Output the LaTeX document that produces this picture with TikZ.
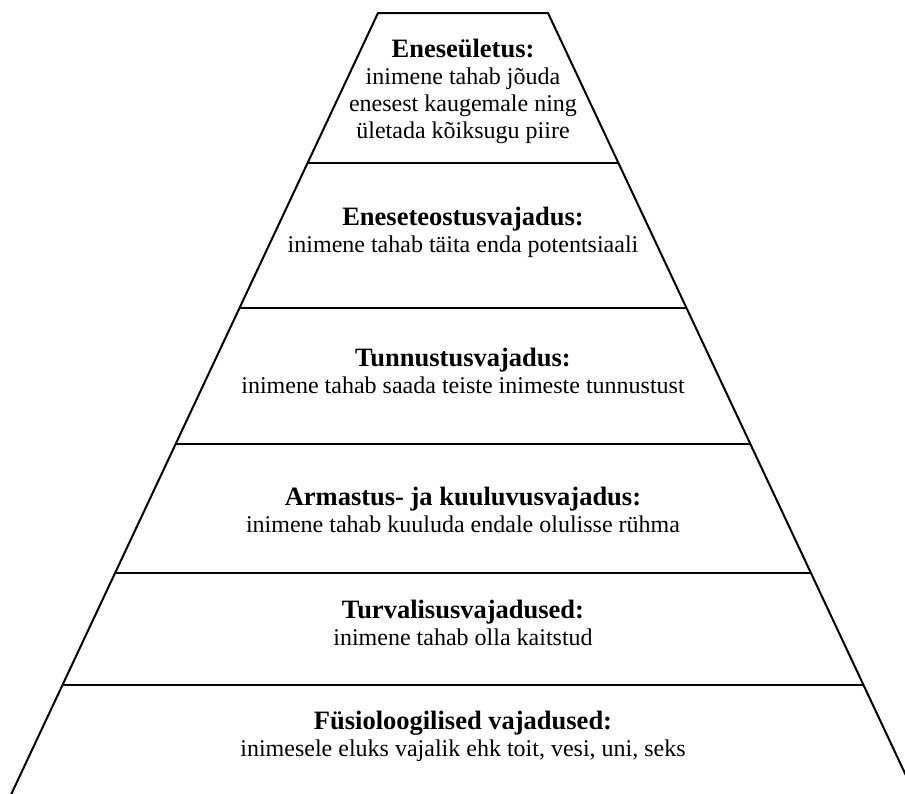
\documentclass[tikz,border=0pt]{standalone}
\usepackage{fontspec}
\setmainfont{Liberation Serif}
\usetikzlibrary{calc}

\begin{document}
\begin{tikzpicture}[x=1pt, y=-1pt, every node/.style={align=center, font=\fontsize{24}{27}\selectfont}]
        \useasboundingbox (0,0) rectangle (905,793);
        \clip (0,0) rectangle (905,793);
        % edge points of the pyramid on every level
        \foreach \n/\y in {0/13, 1/163, 2/308, 3/444, 4/573, 5/685, 6/830} {
            \coordinate (l\n) at ({378-0.4695*(\y-13)}, \y);
            \coordinate (r\n) at ({548+0.4695*(\y-13)}, \y);
        }
        \draw[line width=2pt] (l6) -- (l0) -- (r0) -- (r6);
        \foreach \n in {1,...,5}
            \draw[line width=2pt] (l\n) -- (r\n);

        \node (yle) at (463, 91) {\textbf{\fontsize{26.5}{27}\selectfont Eneseületus:}\\inimene tahab jõuda\\enesest kaugemale ning\\ületada kõiksugu piire};
        \node (teostus) at (463, 232) {\textbf{\fontsize{26.5}{27}\selectfont Eneseteostusvajadus:}\\inimene tahab täita enda potentsiaali};
        \node (tunnustus) at (463, 371) {\textbf{\fontsize{26.5}{27}\selectfont Tunnustusvajadus:}\\inimene tahab saada teiste inimeste tunnustust};
        \node (armastus) at (463, 510) {\textbf{\fontsize{26.5}{27}\selectfont Armastus- ja kuuluvusvajadus:}\\inimene tahab kuuluda endale olulisse rühma};
        \node (turvalisus) at (463, 623) {\textbf{\fontsize{26.5}{27}\selectfont Turvalisusvajadused:}\\inimene tahab olla kaitstud};
        \node (fysio) at (463, 736) {\textbf{\fontsize{26.5}{27}\selectfont Füsioloogilised vajadused:}\\inimesele eluks vajalik ehk toit, vesi, uni, seks};
    \end{tikzpicture}
\end{document}
